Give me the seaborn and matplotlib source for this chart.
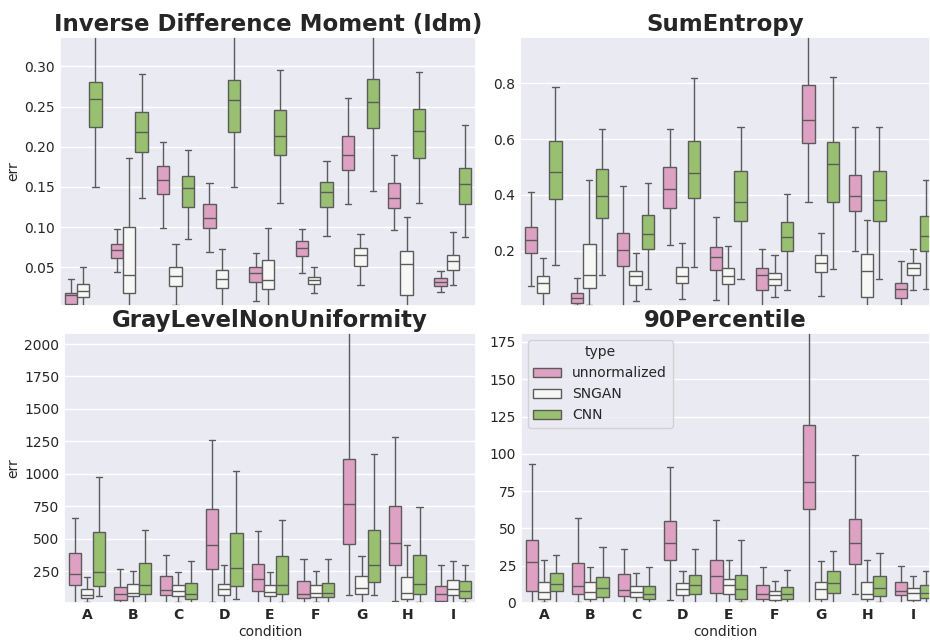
import pandas as pd
import matplotlib
matplotlib.use("Agg")
import matplotlib.pyplot as plt
import seaborn as sns

# conditions and hue levels
conditions = ["A", "B", "C", "D", "E", "F", "G", "H", "I"]
types = ["unnormalized", "SNGAN", "CNN"]

# five-number summaries (min, q1, median, q3, max), one per condition
idm_unnorm = [(0.002, 0.0051, 0.0151, 0.018, 0.0359), (0.0438, 0.0612, 0.0716, 0.0786, 0.0973),
              (0.0986, 0.1409, 0.1588, 0.1767, 0.2057), (0.0691, 0.0986, 0.111, 0.1285, 0.1555),
              (0.008, 0.0321, 0.0425, 0.0508, 0.0683), (0.0425, 0.0645, 0.0737, 0.0828, 0.0973),
              (0.1293, 0.1713, 0.1895, 0.2136, 0.2605), (0.0965, 0.1235, 0.136, 0.1546, 0.1895),
              (0.0197, 0.0271, 0.0321, 0.0371, 0.0454)]
idm_sngan = [(0.0, 0.013, 0.0201, 0.0292, 0.0508), (0.0, 0.0188, 0.040, 0.1007, 0.1866),
             (0.0031, 0.0271, 0.0392, 0.050, 0.0791), (0.0, 0.0242, 0.035, 0.0471, 0.0728),
             (0.002, 0.0226, 0.0342, 0.0595, 0.0986), (0.0184, 0.0288, 0.0342, 0.0384, 0.0508),
             (0.0276, 0.0521, 0.0649, 0.0737, 0.0915), (0.0, 0.0159, 0.0541, 0.0703, 0.1123),
             (0.0276, 0.0467, 0.0575, 0.0654, 0.0944)]
idm_cnn = [(0.1505, 0.2252, 0.2597, 0.2805, 0.34), (0.136, 0.1941, 0.2182, 0.2427, 0.2909),
           (0.0857, 0.1256, 0.1492, 0.1638, 0.1958), (0.1505, 0.2186, 0.2581, 0.2826, 0.36),
           (0.1301, 0.1895, 0.2128, 0.2452, 0.2954), (0.0886, 0.1247, 0.1438, 0.1567, 0.1825),
           (0.1451, 0.2236, 0.2551, 0.2846, 0.34), (0.1301, 0.1866, 0.2194, 0.2473, 0.2925),
           (0.0882, 0.1285, 0.1542, 0.1733, 0.2273)]

se_unnorm = [(0.076, 0.1941, 0.2394, 0.2847, 0.4123), (0.005, 0.014, 0.033, 0.0485, 0.1022),
             (0.0, 0.1475, 0.2036, 0.2632, 0.4326), (0.2215, 0.3551, 0.4219, 0.5018, 0.6354),
             (0.0235, 0.132, 0.1774, 0.2143, 0.3217), (0.0, 0.0593, 0.1153, 0.138, 0.2084),
             (0.3754, 0.5853, 0.6688, 0.7928, 0.98), (0.1988, 0.3432, 0.3968, 0.4732, 0.6437),
             (0.0, 0.033, 0.0652, 0.0867, 0.1654)]
se_sngan = [(0.0, 0.0509, 0.0843, 0.1094, 0.1762), (0.008, 0.0676, 0.1153, 0.2251, 0.4529),
            (0.0223, 0.0784, 0.1094, 0.1285, 0.1917), (0.0295, 0.0843, 0.1094, 0.144, 0.2298),
            (0.0, 0.0807, 0.1106, 0.1392, 0.2191), (0.0342, 0.0784, 0.0986, 0.1225, 0.1857),
            (0.039, 0.1237, 0.1559, 0.1869, 0.2656), (0.0, 0.0354, 0.1285, 0.1905, 0.3121),
            (0.0593, 0.113, 0.1404, 0.1559, 0.206)]
se_cnn = [(0.1499, 0.3873, 0.4839, 0.5925, 0.7857), (0.1153, 0.3193, 0.398, 0.4946, 0.6354),
          (0.0629, 0.2084, 0.2597, 0.33, 0.4422), (0.144, 0.3897, 0.4791, 0.5948, 0.8167),
          (0.101, 0.3062, 0.3754, 0.4851, 0.6437), (0.0605, 0.1988, 0.2489, 0.3038, 0.404),
          (0.1368, 0.3754, 0.5113, 0.5889, 0.8227), (0.0986, 0.3086, 0.3837, 0.4851, 0.6414),
          (0.0629, 0.2012, 0.2549, 0.3265, 0.4529)]

glnu_unnorm = [(8, 140, 229, 391, 660), (8, 27, 73, 129, 263), (8, 70, 104, 214, 373),
               (14, 265, 448, 727, 1258), (8, 101, 191, 306, 558), (8, 45, 78, 173, 345),
               (63, 463, 771, 1115, 2200), (22, 294, 465, 755, 1287), (8, 24, 75, 137, 296)]
glnu_sngan = [(11, 45, 70, 114, 204), (8, 57, 83, 155, 250), (11, 57, 96, 147, 242),
              (8, 63, 109, 155, 296), (8, 57, 91, 140, 242), (11, 52, 83, 140, 250),
              (8, 78, 119, 214, 365), (8, 37, 83, 206, 450), (8, 65, 109, 183, 332)]
glnu_cnn = [(57, 134, 242, 555, 976), (8, 78, 145, 312, 571), (8, 32, 78, 158, 330),
            (34, 134, 278, 545, 1020), (11, 78, 147, 365, 643), (8, 50, 83, 160, 343),
            (70, 163, 296, 566, 1153), (11, 73, 150, 371, 743), (11, 45, 99, 173, 294)]

p90_unnorm = [(0, 7.8, 27.3, 42.5, 93.2), (0.9, 5.8, 11.2, 26.8, 57), (0, 4.5, 8.9, 19.7, 36.2),
              (2.0, 28.6, 40, 55, 91.5), (0, 6.9, 18.1, 29.1, 55.9), (0, 2.9, 6.3, 11.9, 24.1),
              (0, 62.8, 81.4, 119.6, 200), (5.8, 25.9, 40.5, 56.1, 99.5), (0, 5.4, 7.8, 14.1, 25)]
p90_sngan = [(0.4, 2.9, 7.6, 14.1, 29.1), (0, 2.9, 7.6, 14.1, 24.4), (0, 4.2, 7.6, 11.2, 19.9),
             (0, 5.6, 9.4, 13.2, 21.2), (0, 6.0, 11.9, 15.9, 29.1), (0, 2.0, 5.4, 7.8, 15),
             (0, 2.9, 9.4, 14.3, 28), (0, 2.9, 6.0, 14.1, 28.8), (0, 2.0, 6.7, 10.3, 17.9)]
p90_cnn = [(0, 7.8, 13, 19.9, 32.2), (0, 4.2, 10.3, 17.7, 37.8), (0, 2.7, 6.0, 11.6, 23.9),
           (0, 5.8, 12.3, 19, 36.2), (0.4, 2.7, 9.2, 19, 42.3), (0, 2.9, 6.0, 10.7, 22.1),
           (0, 6.7, 13.4, 21.7, 35.1), (0.4, 4.5, 10.3, 17.9, 33.5), (0, 3.6, 6.7, 11.9, 21.2)]

panels = [
    ("Inverse Difference Moment (Idm)", [idm_unnorm, idm_sngan, idm_cnn], (0.002, 0.3365)),
    ("SumEntropy", [se_unnorm, se_sngan, se_cnn], (0.003, 0.965)),
    ("GrayLevelNonUniformity", [glnu_unnorm, glnu_sngan, glnu_cnn], (5, 2085)),
    ("90Percentile", [p90_unnorm, p90_sngan, p90_cnn], (0, 181)),
]


def to_long(series):
    rows = []
    for t, summaries in zip(types, series):
        for cond, five in zip(conditions, summaries):
            for v in five:
                rows.append({"condition": cond, "type": t, "err": v})
    return pd.DataFrame(rows)


sns.set_theme(style="darkgrid")

fig = plt.figure(figsize=(9.3, 6.41), dpi=100)
positions = [
    [0.0645, 0.5226, 0.4473, 0.4197],
    [0.5591, 0.5226, 0.4409, 0.4197],
    [0.0688, 0.0593, 0.4430, 0.4212],
    [0.5602, 0.0593, 0.4398, 0.4212],
]

for i, ((title, series, ylim), pos) in enumerate(zip(panels, positions)):
    ax = fig.add_axes(pos)
    df = to_long(series)
    sns.boxplot(data=df, x="condition", y="err", hue="type", order=conditions,
                hue_order=types, palette="PiYG", whis=(0, 100), showfliers=False,
                legend=(i == 3), ax=ax)
    ax.set_ylim(*ylim)
    ax.set_title(title, fontsize=16.5, fontweight="bold", pad=4)
    ax.tick_params(axis="both", length=0)
    ax.tick_params(axis="y", labelsize=10)
    if i in (1, 3):
        ax.set_xlim(-0.5, 8.36)
        ax.set_ylabel("")
    else:
        ax.set_ylabel("err", fontsize=10, labelpad=3)
    if i < 2:
        ax.set_xticklabels([])
        ax.set_xlabel("")
    else:
        ax.set_xlabel("condition", fontsize=10, labelpad=2)
        for lbl in ax.get_xticklabels():
            lbl.set_fontweight("bold")
            lbl.set_fontsize(10)
    if i == 3:
        ax.legend(title="type", loc="upper left", fontsize=10, title_fontsize=10)

fig.savefig("out.png", dpi=100)
